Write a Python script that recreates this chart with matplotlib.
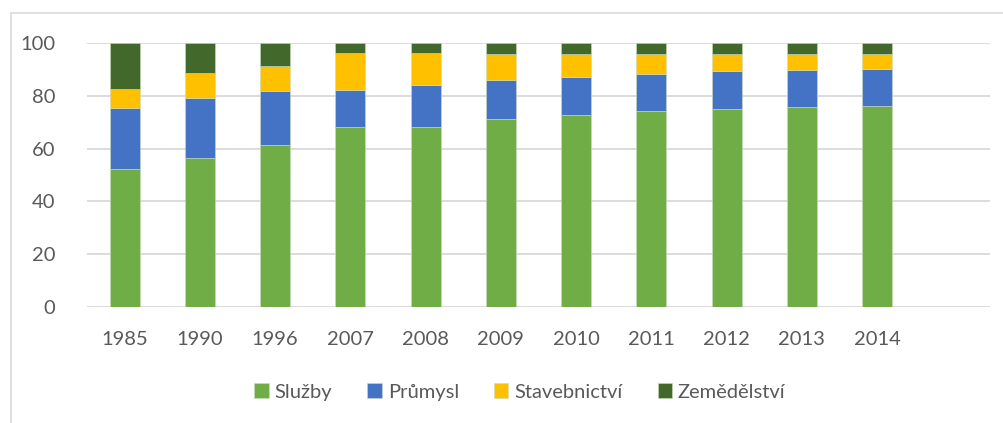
import numpy as np
import matplotlib.pyplot as plt
from matplotlib.patches import Rectangle

plt.rcParams['font.family'] = ['Lato', 'DejaVu Sans']

years = ['1985', '1990', '1996', '2007', '2008', '2009', '2010',
         '2011', '2012', '2013', '2014', '']
sluzby = [52.1, 56.6, 61.5, 68.1, 68.1, 71.3, 72.8, 74.1, 75.1, 75.8, 76.2, 0]
prumysl = [23.4, 22.6, 20.1, 13.9, 15.8, 14.6, 14.1, 14.1, 14.1, 13.8, 13.7, 0]
stavebnictvi = [7.0, 9.4, 9.7, 14.1, 12.1, 9.9, 8.8, 7.6, 6.5, 6.1, 5.8, 0]
zemedelstvi = [17.5, 11.4, 8.7, 3.9, 4.0, 4.2, 4.3, 4.2, 4.3, 4.3, 4.3, 0]

series = [('Služby', sluzby, '#70AD47'),
          ('Průmysl', prumysl, '#4472C4'),
          ('Stavebnictví', stavebnictvi, '#FFC000'),
          ('Zemědělství', zemedelstvi, '#43682B')]

fig = plt.figure(figsize=(10.04, 4.23), dpi=100)
ax = fig.add_axes([87 / 1004, 1 - 307.3 / 423, 903 / 1004, 264.6 / 423])

x = np.arange(len(years))
bottom = np.zeros(len(years))
for name, vals, col in series:
    vals = np.array(vals)
    ax.bar(x, vals, 0.4, bottom=bottom, color=col, label=name,
           edgecolor='#C9DDB9', linewidth=0.4, zorder=3)
    bottom += vals

ax.set_xlim(-0.5, len(years) - 0.5)
ax.set_ylim(0, 100)
ax.set_yticks([0, 20, 40, 60, 80, 100])
ax.set_xticks(x)
ax.set_xticklabels(years)
ax.grid(axis='y', color='#D9D9D9', linewidth=1.3, zorder=0)
for s in ax.spines.values():
    s.set_visible(False)
ax.tick_params(length=0, labelsize=14.5, colors='#595959')
ax.tick_params(axis='x', pad=17)
ax.tick_params(axis='y', pad=23)

# chart frame, cut off at right and bottom
fig.patches.append(Rectangle((11 / 1004, -0.1), 1.2, 0.1 + (423 - 13) / 423,
                             transform=fig.transFigure, fill=False,
                             edgecolor='#D9D9D9', linewidth=1.2))

fig.legend(loc='center', bbox_to_anchor=(520 / 1004, 1 - 392 / 423), ncol=4,
           frameon=False, fontsize=14.5, labelcolor='#595959',
           handlelength=0.7, handleheight=0.7, handletextpad=0.3,
           columnspacing=1.75)

fig.savefig('out.png', dpi=100)
